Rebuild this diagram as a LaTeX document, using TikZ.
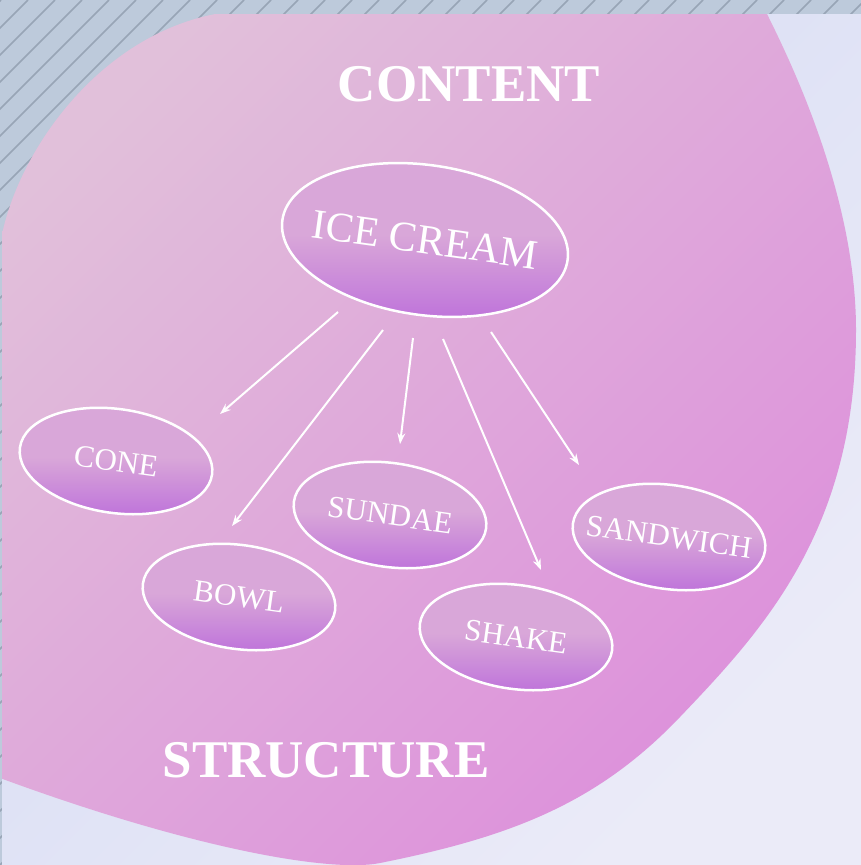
\documentclass[tikz,border=0pt]{standalone}
\usepackage{fontspec}
\setmainfont{Liberation Serif}
\usetikzlibrary{shapes.geometric, arrows.meta}

\definecolor{slate}{RGB}{189,202,219}
\definecolor{slateline}{RGB}{152,165,182}
\definecolor{lilac}{RGB}{213,219,243}
\definecolor{lilaclight}{RGB}{235,235,248}
\definecolor{blushlight}{RGB}{225,192,218}
\definecolor{blush}{RGB}{221,144,219}
\definecolor{ovaltop}{RGB}{217,167,217}
\definecolor{ovalbottom}{RGB}{192,118,218}

\begin{document}
\begin{tikzpicture}[x=1pt, y=1pt,
    oval/.style={ellipse, draw=white, line width=2.5pt, inner xsep=-25pt, inner ysep=0pt,
      minimum width=194pt, minimum height=104pt, rotate=-8,
      top color=ovaltop, bottom color=ovalbottom, middle color=ovaltop,
      text=white, font=\fontsize{31}{31}\selectfont},
    title/.style={text=white, font=\bfseries\fontsize{53}{53}\selectfont},
    link/.style={draw=white, line width=2pt, -{Stealth[length=11pt, width=8pt]}}]
    \useasboundingbox (0,0) rectangle (861,-865);

    % striped backdrop
    \fill[slate] (0,0) rectangle (861,-865);
    \begin{scope}
      \clip (0,0) rectangle (861,-865);
      \foreach \i in {-864,-837,...,861}
        \draw[slateline, line width=1.5pt] (\i,-865) -- ++(865,865);
    \end{scope}

    % panel and the big blob on it
    \begin{scope}
      \clip (2,-14) rectangle (861,-865);
      \shade[left color=lilac, right color=lilaclight, shading angle=45]
        (2,-865) -- (2,-450) -- (450,-14) -- (861,-14) -- (861,-865) -- cycle;
      \shade[left color=blushlight, right color=blush, shading angle=45]
        (0,-245) .. controls (15,-150) and (110,-15) .. (250,-10)
        .. controls (450,30) and (740,40) .. (767,-14)
        .. controls (795,-70) and (856,-200) .. (856,-330)
        .. controls (856,-530) and (763,-630) .. (680,-717)
        .. controls (597,-804) and (510,-837) .. (380,-863)
        .. controls (330,-873) and (190,-848) .. (0,-778)
        -- (-10,-774) -- (-10,-250) -- cycle;
    \end{scope}

    \node[title] (content) at (469,-84) {CONTENT};
    \node[title] (structure) at (326,-760) {STRUCTURE};

    \node[oval, minimum width=288pt, minimum height=150pt,
      font=\fontsize{42}{42}\selectfont] (ice) at (425,-240) {ICE CREAM};
    \node[oval] (cone) at (116,-461) {CONE};
    \node[oval] (bowl) at (239,-597) {BOWL};
    \node[oval] (sundae) at (390,-515) {SUNDAE};
    \node[oval] (shake) at (516,-637) {SHAKE};
    \node[oval] (sandwich) at (669,-537) {SANDWICH};

    % arrows stop short of the ovals
    \coordinate (ice-cone) at (338,-312);
    \coordinate (ice-bowl) at (383,-330);
    \coordinate (ice-sundae) at (413,-338);
    \coordinate (ice-shake) at (443,-339);
    \coordinate (ice-sandwich) at (491,-332);
    \coordinate (cone-top) at (220,-414);
    \coordinate (bowl-top) at (232,-526);
    \coordinate (sundae-top) at (400,-444);
    \coordinate (shake-top) at (541,-570);
    \coordinate (sandwich-top) at (579,-465);
    \foreach \n in {cone,bowl,sundae,shake,sandwich}
      \draw[link] (ice-\n) -- (\n-top);
\end{tikzpicture}
\end{document}
